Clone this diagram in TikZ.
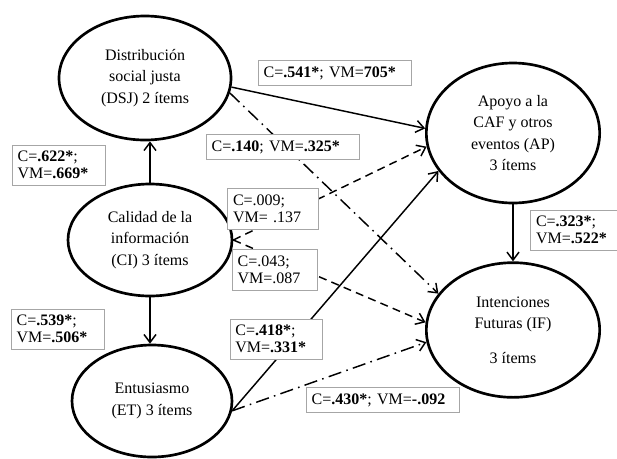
\documentclass[tikz,border=0pt]{standalone}
\usepackage{fontspec}
\setmainfont{Liberation Serif}
\usetikzlibrary{shapes.geometric, arrows.meta}

\begin{document}
\begin{tikzpicture}[x=0.75pt, y=-0.75pt,
    latent/.style={draw, ellipse, line width=2pt, inner sep=0pt, align=center,
      font=\fontsize{12}{16}\selectfont},
    coef/.style={draw=gray!70, line width=0.6pt, fill=white, inner xsep=4pt, inner ysep=4.5pt,
      align=left, text width=#1, font=\fontsize{12}{13}\selectfont},
    link/.style={line width=1.1pt, -{Straight Barb[length=6pt, width=9pt]}},
    mixed/.style={link, dash pattern=on 10pt off 4pt on 1.2pt off 4pt}]
  \useasboundingbox (0,0) rectangle (617,458);
  \node[latent, minimum width=129pt, minimum height=93pt] (dsj) at (145,78) {Distribución\\social justa\\(DSJ) 2 ítems};
  \node[latent, minimum width=123pt, minimum height=84pt] (ci) at (150,240) {Calidad de la\\información\\(CI) 3 ítems};
  \node[latent, minimum width=120pt, minimum height=84pt] (et) at (152,401) {Entusiasmo\\(ET) 3 ítems};
  \node[latent, minimum width=130pt, minimum height=105pt] (ap) at (513,133) {Apoyo a la\\CAF y otros\\eventos (AP)\\3 ítems};
  \node[latent, minimum width=130pt, minimum height=101pt] (if) at (513,330) {Intenciones\\Futuras (IF)\\[10pt]3 ítems};

  \draw[link] (ci.north) -- (ci.north |- dsj.south);
  \draw[link] (ci.south) -- (ci.south |- et.north);
  \draw[link] (ap.south) -- (if.north);
  \draw[link] (dsj.-6) -- (ap.177);
  \draw[mixed] (dsj.-10) -- (if.154);
  \draw[link, dash pattern=on 6pt off 4pt] (ci.0) -- (ap.189);
  \draw[link, dash pattern=on 6pt off 4pt] (ci.0) -- (if.175);
  \draw[link] (et.-7) -- (ap.207);
  \draw[mixed] (et.-7) -- (if.188);

  \node[coef=107pt] (b541) at (335,73) {C=\textbf{.541*}; VM=\textbf{705*}};
  \node[coef=107pt] (b140) at (283,147) {C=\textbf{.140}; VM=\textbf{.325*}};
  \node[coef=62pt] (b622) at (59,165) {C=\textbf{.622*};\\VM=\textbf{.669*}};
  \node[coef=60pt] (b009) at (273,209) {C=.009;\\VM= .137};
  \node[coef=56pt] (b043) at (275,270) {C=.043;\\VM=.087};
  \node[coef=62pt] (b539) at (58,329) {C=\textbf{.539*};\\VM=\textbf{.506*}};
  \node[coef=61pt] (b418) at (276,339) {C=\textbf{.418*};\\VM=\textbf{.331*}};
  \node[coef=107pt] (b430) at (383,400) {C=\textbf{.430*}; VM=\textbf{-.092}};
  \node[coef=57pt] (b323) at (574,230) {C=\textbf{.323*};\\VM=\textbf{.522*}};
\end{tikzpicture}
\end{document}
